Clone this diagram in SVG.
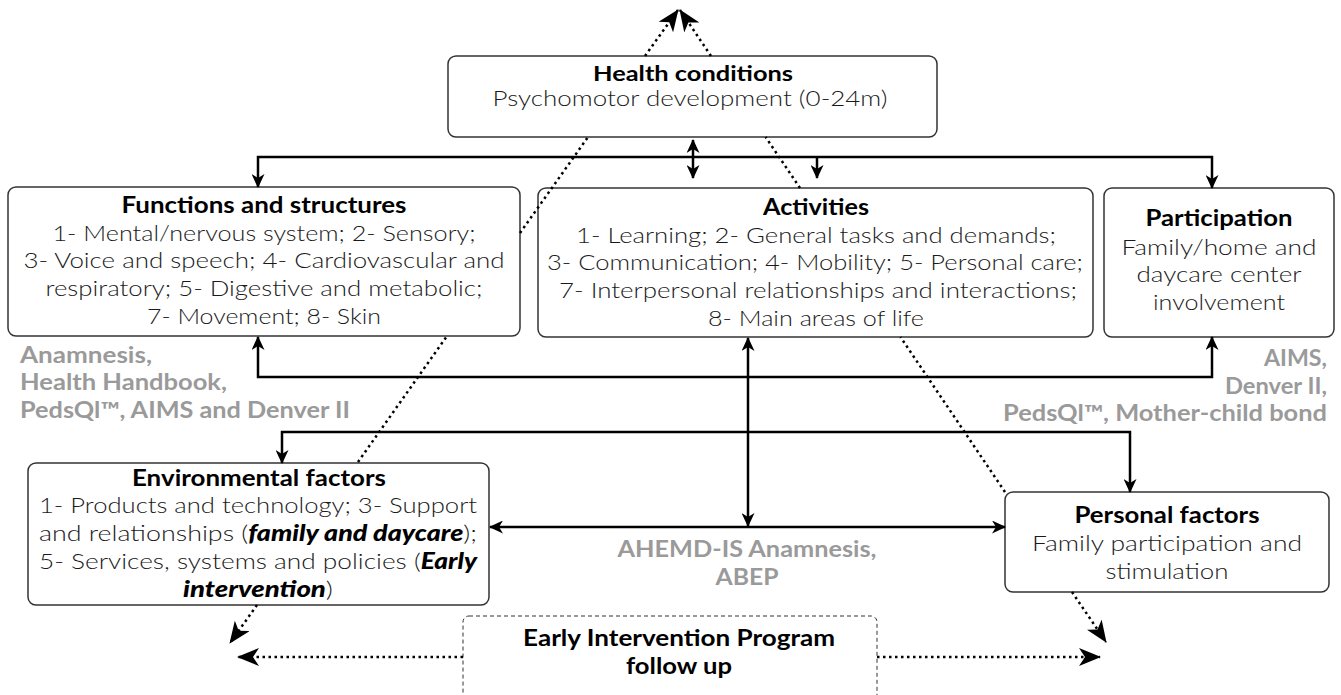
<svg xmlns="http://www.w3.org/2000/svg" width="1341" height="695" viewBox="0 0 1341 695">
<style>
.box{fill:#fff;stroke:#333;stroke-width:1.5}
.dbox{fill:#fff;stroke:#333;stroke-width:1;stroke-dasharray:4 3}
.t{font-family:Lato,Inter,"Open Sans","Liberation Sans",sans-serif;font-size:22px;fill:#1a1a1a;text-anchor:middle;font-weight:300}
.h{font-family:Lato,Inter,"Open Sans","Liberation Sans",sans-serif;font-size:22px;fill:#000;text-anchor:middle;font-weight:700}
.g{font-family:Lato,Inter,"Open Sans","Liberation Sans",sans-serif;font-size:22px;fill:#9a9a9a;font-weight:700}
.bi{font-weight:900;font-style:italic;fill:#000}
.c{fill:none;stroke:#000;stroke-width:2.5}
.d{fill:none;stroke:#000;stroke-width:2.5;stroke-dasharray:2.5 3.5}
</style>
<defs>
<marker id="a" markerUnits="userSpaceOnUse" markerWidth="14" markerHeight="13" refX="13" refY="6.5" orient="auto-start-reverse"><path d="M0,0 L14,6.5 L0,13 L4,6.5 z" fill="#000"/></marker>
<marker id="b" markerUnits="userSpaceOnUse" markerWidth="22" markerHeight="18" refX="21" refY="9" orient="auto-start-reverse"><path d="M0,0 L22,9 L0,18 L6,9 z" fill="#000"/></marker>
</defs>

<g id="health">
<rect class="box" x="448" y="56" width="489" height="81" rx="8"/>
<text class="h" x="693" y="81" style="font-size:21px" textLength="200" lengthAdjust="spacingAndGlyphs">Health conditions</text>
<text class="t" x="690" y="106" style="font-size:21px" textLength="395" lengthAdjust="spacingAndGlyphs">Psychomotor development (0-24m)</text>
</g>

<g id="functions">
<rect class="box" x="8" y="187" width="512" height="149" rx="8"/>
<text class="h" x="264" y="213" textLength="285" lengthAdjust="spacingAndGlyphs">Functions and structures</text>
<text class="t" x="264" y="241" textLength="423" lengthAdjust="spacingAndGlyphs">1- Mental/nervous system; 2- Sensory;</text>
<text class="t" x="264" y="268" textLength="481" lengthAdjust="spacingAndGlyphs">3- Voice and speech; 4- Cardiovascular and</text>
<text class="t" x="264" y="296" textLength="437" lengthAdjust="spacingAndGlyphs">respiratory; 5- Digestive and metabolic;</text>
<text class="t" x="264" y="324" textLength="234" lengthAdjust="spacingAndGlyphs">7- Movement; 8- Skin</text>
</g>

<g id="activities">
<rect class="box" x="538" y="188" width="555" height="149" rx="8"/>
<text class="h" x="816" y="215" textLength="106" lengthAdjust="spacingAndGlyphs">Activities</text>
<text class="t" x="816" y="243" textLength="480" lengthAdjust="spacingAndGlyphs">1- Learning; 2- General tasks and demands;</text>
<text class="t" x="815" y="270" textLength="536" lengthAdjust="spacingAndGlyphs">3- Communication; 4- Mobility; 5- Personal care;</text>
<text class="t" x="818" y="298" textLength="518" lengthAdjust="spacingAndGlyphs">7- Interpersonal relationships and interactions;</text>
<text class="t" x="816" y="326" textLength="216" lengthAdjust="spacingAndGlyphs">8- Main areas of life</text>
</g>

<g id="participation">
<rect class="box" x="1104" y="188" width="230" height="149" rx="8"/>
<text class="h" x="1219" y="226" textLength="147" lengthAdjust="spacingAndGlyphs">Participation</text>
<text class="t" x="1219" y="255" textLength="195" lengthAdjust="spacingAndGlyphs">Family/home and</text>
<text class="t" x="1219" y="282" textLength="165" lengthAdjust="spacingAndGlyphs">daycare center</text>
<text class="t" x="1219" y="310" textLength="132" lengthAdjust="spacingAndGlyphs">involvement</text>
</g>

<g id="environmental">
<rect class="box" x="28" y="463" width="461" height="142" rx="8"/>
<text class="h" x="259" y="486" textLength="254" lengthAdjust="spacingAndGlyphs">Environmental factors</text>
<text class="t" x="258" y="513" textLength="438" lengthAdjust="spacingAndGlyphs">1- Products and technology; 3- Support</text>
<text class="t" x="258" y="541" textLength="438" lengthAdjust="spacingAndGlyphs">and relationships (<tspan class="bi">family and daycare</tspan>);</text>
<text class="t" x="258" y="569" textLength="438" lengthAdjust="spacingAndGlyphs">5- Services, systems and policies (<tspan class="bi">Early</tspan></text>
<text class="t" x="258" y="597" textLength="150" lengthAdjust="spacingAndGlyphs"><tspan class="bi">intervention</tspan>)</text>
</g>

<g id="personal">
<rect class="box" x="1005" y="492" width="324" height="100" rx="8"/>
<text class="h" x="1167" y="523" textLength="185" lengthAdjust="spacingAndGlyphs">Personal factors</text>
<text class="t" x="1167" y="551" textLength="270" lengthAdjust="spacingAndGlyphs">Family participation and</text>
<text class="t" x="1167" y="579" textLength="123" lengthAdjust="spacingAndGlyphs">stimulation</text>
</g>

<g id="early">
<rect class="dbox" x="463" y="616" width="414" height="90" rx="6"/>
<text class="h" x="679" y="646" textLength="312" lengthAdjust="spacingAndGlyphs">Early Intervention Program</text>
<text class="h" x="679" y="674" textLength="106" lengthAdjust="spacingAndGlyphs">follow up</text>
</g>

<g id="labels">
<text class="g" x="20" y="363" textLength="132" lengthAdjust="spacingAndGlyphs">Anamnesis,</text>
<text class="g" x="20" y="390" textLength="207" lengthAdjust="spacingAndGlyphs">Health Handbook,</text>
<text class="g" x="20" y="418" textLength="330" lengthAdjust="spacingAndGlyphs">PedsQl™, AIMS and Denver II</text>
<text class="g" x="1327" y="366" text-anchor="end" textLength="63" lengthAdjust="spacingAndGlyphs">AIMS,</text>
<text class="g" x="1327" y="394" text-anchor="end" textLength="102" lengthAdjust="spacingAndGlyphs">Denver II,</text>
<text class="g" x="1327" y="421" text-anchor="end" textLength="324" lengthAdjust="spacingAndGlyphs">PedsQl™, Mother-child bond</text>
<text class="g" x="747" y="557" text-anchor="middle" textLength="259" lengthAdjust="spacingAndGlyphs">AHEMD-IS Anamnesis,</text>
<text class="g" x="747" y="585" text-anchor="middle" textLength="63" lengthAdjust="spacingAndGlyphs">ABEP</text>
</g>

<g id="connectors">
<path class="c" d="M258,187 L258,157 L1212,157 L1212,188" marker-start="url(#a)" marker-end="url(#a)"/>
<path class="c" d="M817,157 L817,178" marker-end="url(#a)"/>
<path class="c" d="M693,140 L693,178" marker-start="url(#a)" marker-end="url(#a)"/>
<path class="c" d="M258,337 L258,377 L1212,377 L1212,337" marker-start="url(#a)" marker-end="url(#a)"/>
<path class="c" d="M748,338 L748,526" marker-start="url(#a)" marker-end="url(#a)"/>
<path class="c" d="M282,463 L282,432 L1130,432 L1130,492" marker-start="url(#a)" marker-end="url(#a)"/>
<path class="c" d="M490,527 L1005,527" marker-start="url(#a)" marker-end="url(#a)"/>
<path class="d" d="M358,462 L447,336 M520,233 L588,137 M645,56 L678,10" marker-end="url(#b)"/>
<path class="d" d="M1005,492 L900.5,337 M800,188 L765.6,137 M711,56 L680,10" marker-end="url(#b)"/>
<path class="d" d="M257,605 L230,643" marker-end="url(#b)"/>
<path class="d" d="M1072,592 L1106,642" marker-end="url(#b)"/>
<path class="d" d="M463,657 L238,657" marker-end="url(#b)"/>
<path class="d" d="M877,657 L1100,657" marker-end="url(#b)"/>
</g>
</svg>
